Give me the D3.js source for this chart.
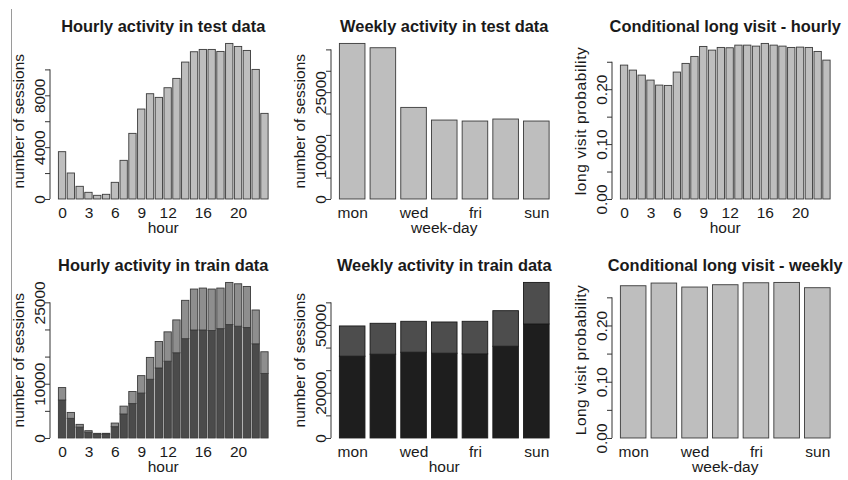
<!DOCTYPE html>
<html>
<head>
<meta charset="utf-8">
<script src="https://cdn.jsdelivr.net/npm/d3@7"></script>
<style>
  body { margin: 0; background: #fff; }
  svg { display: block; font-family: "Liberation Sans", Arial, Helvetica, sans-serif; }
</style>
</head>
<body>
<svg width="848" height="480"></svg>
<script>
// categories
var hours = ["0","1","2","3","4","5","6","7","8","9","10","11","12","13","14","15","16","17","18","19","20","21","22","23"]
var hourLabels = ["0","3","6","9","12","16","20"]
var days = ["mon","tue","wed","thu","fri","sat","sun"]
var dayLabels = ["mon","wed","fri","sun"]

// test data
var testHourly = [3650, 2005, 977, 514, 283, 360, 1285, 2982, 5064, 6941, 8123, 7841,
                  8586, 9306, 10566, 11362, 11542, 11542, 11388, 12005, 11774, 11465, 10000, 6607]
var testWeekly = [36400, 35390, 21430, 18470, 18240, 18710, 18240]

// train data, split in short visits (bottom) and long visits (top)
var trainHourlyShort = [7000, 3620, 2000, 1060, 680, 690, 2080, 4420, 6340, 8280, 10820, 12900,
                        14150, 15700, 18300, 19900, 19900, 19800, 20150, 20900, 20600, 20350, 17350, 11900]
var trainHourlyLong = [2290, 1090, 510, 285, 176, 170, 670, 1450, 2220, 3210, 4030, 4890,
                       5410, 6060, 7070, 7550, 7730, 7650, 7480, 7770, 7820, 7580, 6240, 3990]
var trainWeeklyShort = [36180, 37060, 37940, 37500, 37210, 40590, 50440]
var trainWeeklyLong = [13380, 13680, 13680, 13820, 14410, 15730, 18380]

// conditional long visit probability
var probHourly = [0.2439, 0.2348, 0.2257, 0.2166, 0.2075, 0.2069, 0.2312, 0.2470, 0.2597, 0.2779, 0.2712, 0.2761,
                  0.2755, 0.2803, 0.2803, 0.2785, 0.2834, 0.2803, 0.2785, 0.2761, 0.2767, 0.2761, 0.2688, 0.2530]
var probWeekly = [0.2706, 0.2754, 0.2683, 0.2724, 0.2759, 0.2765, 0.2671]

// y axis ticks and the ones that get a label
var ticksTestHourly = [0, 2000, 4000, 6000, 8000, 10000]
var labelsTestHourly = [0, 4000, 8000]
var ticksTestWeekly = [0, 5000, 10000, 15000, 20000, 25000, 30000, 35000]
var labelsTestWeekly = [0, 10000, 25000]
var ticksProb = [0, 0.05, 0.10, 0.15, 0.20, 0.25]
var labelsProb = [0, 0.10, 0.20]
var ticksTrainHourly = [0, 5000, 10000, 15000, 20000, 25000]
var labelsTrainHourly = [0, 10000, 25000]
var ticksTrainWeekly = [0, 10000, 20000, 30000, 40000, 50000, 60000]
var labelsTrainWeekly = [0, 20000, 50000]

var svg = d3.select("svg")
var W = 226.5, H = 168
var lefts = [50, 331, 612], tops = [37.2, 276.2]
var fontSize = 15.5

// thin grey rule on the far left
svg.append("line").attr("x1", 11.5).attr("x2", 11.5).attr("y1", 9).attr("y2", 480)
    .attr("stroke", "#9a9a9a").attr("stroke-width", 1)

function panel(opt) {
    var g = svg.append("g").attr("transform", "translate(" + opt.left + "," + opt.top + ")")
    var n = opt.cats.length

    // same geometry as R barplot: width 1, space 0.2, 4% padding
    var lo = 0.2, hi = 1.2 * n, ext = 0.04 * (hi - lo)
    var x = d3.scaleLinear().domain([lo - ext, hi + ext]).range([0, W])

    var rows = opt.cats.map(function(c, i) { return opt.series.map(function(s) { return s[i] }) })
    var stacked = d3.stack().keys(d3.range(opt.series.length))(rows)
    var ymax = d3.max(stacked[stacked.length - 1], function(d) { return d[1] })
    var y = d3.scaleLinear().domain([-0.04 * ymax, 1.04 * ymax]).range([H, 0])

    // bars
    g.selectAll(".layer").data(stacked).enter().append("g")
        .attr("class", "layer")
        .attr("fill", function(d, k) { return opt.colors[k] })
        .selectAll("rect").data(function(d) { return d }).enter().append("rect")
        .attr("x", function(d, i) { return x(0.2 + 1.2 * i) })
        .attr("width", function(d, i) { return x(1.2 + 1.2 * i) - x(0.2 + 1.2 * i) })
        .attr("y", function(d) { return y(d[1]) })
        .attr("height", function(d) { return y(d[0]) - y(d[1]) })
        .attr("stroke", opt.stroke)
        .attr("stroke-width", 0.9)

    // y axis
    var ya = g.append("g")
        .call(d3.axisLeft(y).tickValues(opt.ticks).tickSize(5)
            .tickFormat(function(d) { return opt.tickLabels.indexOf(d) >= 0 ? opt.fmt(d) : "" }))
    ya.attr("font-size", null).attr("font-family", null)
    ya.select(".domain").remove()
    ya.append("line")
        .attr("y1", y(opt.ticks[0])).attr("y2", y(opt.ticks[opt.ticks.length - 1]))
        .attr("stroke", "#333")
    ya.selectAll(".tick line").attr("stroke", "#333")
    ya.selectAll(".tick text")
        .attr("x", null).attr("dy", null)
        .attr("transform", "translate(-5.5,0) rotate(-90)")
        .attr("text-anchor", "middle")
        .attr("font-size", fontSize)
        .attr("fill", "#1a1a1a")

    // x labels (no axis line in the original)
    var xa = g.append("g").attr("transform", "translate(0," + H + ")")
        .call(d3.axisBottom(x)
            .tickValues(opt.cats.map(function(c, i) { return 0.7 + 1.2 * i })
                .filter(function(v, i) { return opt.xLabels.indexOf(opt.cats[i]) >= 0 }))
            .tickSize(0).tickPadding(1.8)
            .tickFormat(function(v) { return opt.cats[Math.round((v - 0.7) / 1.2)] }))
    xa.attr("font-size", null).attr("font-family", null)
    xa.select(".domain").remove()
    xa.selectAll("text").attr("font-size", fontSize).attr("fill", "#1a1a1a")

    // titles and axis names
    g.append("text").attr("x", W / 2).attr("y", -5.4)
        .attr("text-anchor", "middle").attr("font-weight", "bold")
        .attr("font-size", 16.4).attr("fill", "#1a1a1a")
        .text(opt.title)
    g.append("text").attr("x", W / 2).attr("y", H + 27.8)
        .attr("text-anchor", "middle").attr("font-size", fontSize).attr("fill", "#1a1a1a")
        .text(opt.xTitle)
    var yt = g.append("text")
        .attr("transform", "translate(-26.5," + (H / 2) + ") rotate(-90)")
        .attr("text-anchor", "middle").attr("font-size", fontSize).attr("fill", "#1a1a1a")
        .text(opt.yTitle)
    if (opt.yTitleLength) yt.attr("textLength", opt.yTitleLength).attr("lengthAdjust", "spacing")
}

var fmtCount = d3.format("d"), fmtProb = d3.format(".2f")

panel({ left: lefts[0], top: tops[0], cats: hours, xLabels: hourLabels, series: [testHourly],
        colors: ["#bebebe"], stroke: "#3a3a3a", ticks: ticksTestHourly, tickLabels: labelsTestHourly, fmt: fmtCount,
        title: "Hourly activity in test data", xTitle: "hour", yTitle: "number of sessions" })
panel({ left: lefts[1], top: tops[0], cats: days, xLabels: dayLabels, series: [testWeekly],
        colors: ["#bebebe"], stroke: "#3a3a3a", ticks: ticksTestWeekly, tickLabels: labelsTestWeekly, fmt: fmtCount,
        title: "Weekly activity in test data", xTitle: "week-day", yTitle: "number of sessions" })
panel({ left: lefts[2], top: tops[0], cats: hours, xLabels: hourLabels, series: [probHourly],
        colors: ["#bebebe"], stroke: "#3a3a3a", ticks: ticksProb, tickLabels: labelsProb, fmt: fmtProb,
        title: "Conditional long visit - hourly", xTitle: "hour", yTitle: "long visit probability", yTitleLength: 148 })
panel({ left: lefts[0], top: tops[1], cats: hours, xLabels: hourLabels, series: [trainHourlyShort, trainHourlyLong],
        colors: ["#4b4b4b", "#8e8e8e"], stroke: "#3a3a3a", ticks: ticksTrainHourly, tickLabels: labelsTrainHourly, fmt: fmtCount,
        title: "Hourly activity in train data", xTitle: "hour", yTitle: "number of sessions" })
panel({ left: lefts[1], top: tops[1], cats: days, xLabels: dayLabels, series: [trainWeeklyShort, trainWeeklyLong],
        colors: ["#1e1e1e", "#4d4d4d"], stroke: "#1a1a1a", ticks: ticksTrainWeekly, tickLabels: labelsTrainWeekly, fmt: fmtCount,
        title: "Weekly activity in train data", xTitle: "hour", yTitle: "number of sessions" })
panel({ left: lefts[2], top: tops[1], cats: days, xLabels: dayLabels, series: [probWeekly],
        colors: ["#bebebe"], stroke: "#3a3a3a", ticks: ticksProb, tickLabels: labelsProb, fmt: fmtProb,
        title: "Conditional long visit - weekly", xTitle: "week-day", yTitle: "Long visit probability", yTitleLength: 150 })
</script>
</body>
</html>
